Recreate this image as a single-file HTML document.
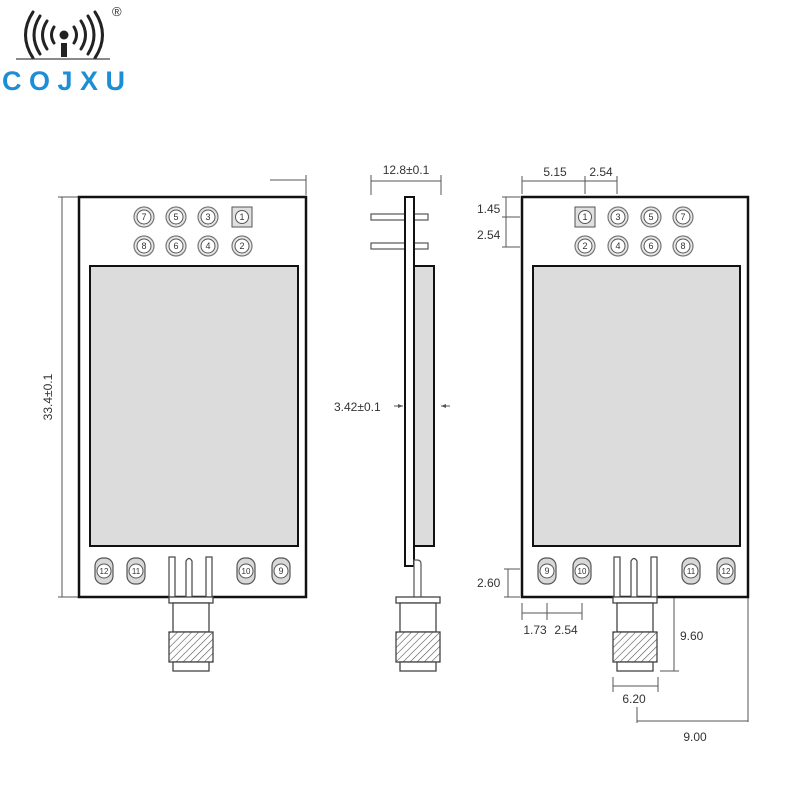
<!DOCTYPE html>
<html><head><meta charset="utf-8"><style>body{margin:0;background:#fff}svg{display:block}</style></head><body>
<svg width="800" height="800" viewBox="0 0 800 800" xmlns="http://www.w3.org/2000/svg" font-family="Liberation Sans, sans-serif">
<defs>
<pattern id="h" width="5" height="5" patternUnits="userSpaceOnUse" patternTransform="rotate(45)"><rect width="5" height="5" fill="#fff"/><line x1="0" y1="0" x2="0" y2="5" stroke="#555" stroke-width="1.2"/></pattern>
<g id="pin"><circle r="10" fill="#e6e6e6" stroke="#777" stroke-width="1.2"/><circle r="7" fill="#fff" stroke="#555" stroke-width="1"/></g>
<g id="pad"><rect x="-9" y="-13" width="18" height="26" rx="8" fill="#d8d8d8" stroke="#555" stroke-width="1.2"/><circle r="7" fill="#fff" stroke="#555" stroke-width="1"/></g>
<g id="conn" fill="none" stroke="#444" stroke-width="1.3">
<rect x="-22" y="0" width="44" height="6" fill="#fff"/>
<rect x="-18" y="6" width="36" height="29" fill="#fff"/>
<rect x="-22" y="35" width="44" height="30" fill="url(#h)"/>
<rect x="-18" y="65" width="36" height="9" fill="#fff"/>
</g>
</defs>
<!-- logo -->
<g fill="none" stroke="#222" stroke-width="3" stroke-linecap="round">
<path d="M54 27 Q49 35 54 43"/><path d="M47 21 Q38 35 47 49"/><path d="M40 16 Q28 35 40 54"/><path d="M33 12 Q18 35 33 58"/>
<path d="M74 27 Q79 35 74 43"/><path d="M81 21 Q90 35 81 49"/><path d="M88 16 Q100 35 88 54"/><path d="M95 12 Q110 35 95 58"/>
</g>
<circle cx="64" cy="35" r="4.5" fill="#222"/><rect x="61" y="43" width="6" height="14" fill="#222"/>
<line x1="16" y1="59" x2="110" y2="59" stroke="#444" stroke-width="1.2"/>
<text x="112" y="16" font-size="13" fill="#333">®</text>
<text x="2" y="90" font-size="27" font-weight="bold" fill="#1d8ed6" letter-spacing="7.5">COJXU</text>

<g stroke="#555" stroke-width="1" fill="none">
<line x1="62" y1="197" x2="62" y2="597"/><line x1="58" y1="197" x2="78" y2="197"/><line x1="58" y1="597" x2="78" y2="597"/>
<line x1="270" y1="180" x2="306" y2="180"/><line x1="306" y1="175" x2="306" y2="195"/>
<line x1="371" y1="181" x2="441" y2="181"/><line x1="371" y1="175" x2="371" y2="195"/><line x1="441" y1="175" x2="441" y2="195"/>
<line x1="394" y1="406" x2="403" y2="406"/><line x1="441" y1="406" x2="450" y2="406"/>
<line x1="522" y1="181" x2="617" y2="181"/><line x1="522" y1="176" x2="522" y2="194"/><line x1="585" y1="176" x2="585" y2="194"/><line x1="617" y1="176" x2="617" y2="194"/>
<line x1="506" y1="197" x2="506" y2="247"/><line x1="502" y1="197" x2="520" y2="197"/><line x1="502" y1="217" x2="520" y2="217"/><line x1="502" y1="247" x2="520" y2="247"/>
<line x1="508" y1="569" x2="508" y2="597"/><line x1="504" y1="569" x2="520" y2="569"/><line x1="504" y1="597" x2="520" y2="597"/>
<line x1="522" y1="613" x2="582" y2="613"/><line x1="522" y1="603" x2="522" y2="620"/><line x1="547" y1="603" x2="547" y2="620"/><line x1="582" y1="603" x2="582" y2="620"/>
<line x1="674" y1="597" x2="674" y2="671"/><line x1="660" y1="671" x2="679" y2="671"/>
<line x1="613" y1="686" x2="658" y2="686"/><line x1="613" y1="677" x2="613" y2="692"/><line x1="658" y1="677" x2="658" y2="692"/>
<line x1="637" y1="721" x2="748" y2="721"/><line x1="748" y1="597" x2="748" y2="722"/><line x1="637" y1="707" x2="637" y2="723"/>
</g>
<path d="M403 406 l-5 -2 v4z M441 406 l5 -2 v4z" fill="#555"/>
<g font-size="12" fill="#333">
<text x="52" y="397" transform="rotate(-90 52 397)" text-anchor="middle">33.4±0.1</text>
<text x="406" y="174" text-anchor="middle">12.8±0.1</text>
<text x="334" y="411">3.42±0.1</text>
<text x="555" y="176" text-anchor="middle">5.15</text><text x="601" y="176" text-anchor="middle">2.54</text>
<text x="477" y="213">1.45</text><text x="477" y="239">2.54</text>
<text x="477" y="587">2.60</text>
<text x="535" y="634" text-anchor="middle">1.73</text><text x="566" y="634" text-anchor="middle">2.54</text>
<text x="680" y="640">9.60</text><text x="634" y="703" text-anchor="middle">6.20</text><text x="695" y="741" text-anchor="middle">9.00</text>
</g>

<rect x="79" y="197" width="227" height="400" fill="#fff" stroke="#111" stroke-width="2.5"/>
<rect x="90" y="266" width="208" height="280" fill="#dcdcdc" stroke="#111" stroke-width="2"/>
<g font-size="9" fill="#333" text-anchor="middle">
<use href="#pin" x="144" y="217"/><text x="144" y="220">7</text>
<use href="#pin" x="176" y="217"/><text x="176" y="220">5</text>
<use href="#pin" x="208" y="217"/><text x="208" y="220">3</text>
<rect x="232" y="207" width="20" height="20" fill="#e0e0e0" stroke="#555"/><circle cx="242" cy="217" r="6.5" fill="#fff" stroke="#555"/><text x="242" y="220">1</text>
<use href="#pin" x="144" y="246"/><text x="144" y="249">8</text>
<use href="#pin" x="176" y="246"/><text x="176" y="249">6</text>
<use href="#pin" x="208" y="246"/><text x="208" y="249">4</text>
<use href="#pin" x="242" y="246"/><text x="242" y="249">2</text>
<use href="#pad" x="104" y="571"/><text x="104" y="574" font-size="8">12</text>
<use href="#pad" x="136" y="571"/><text x="136" y="574" font-size="8">11</text>
<use href="#pad" x="246" y="571"/><text x="246" y="574" font-size="8">10</text>
<use href="#pad" x="281" y="571"/><text x="281" y="574">9</text>
</g>
<g fill="#fff" stroke="#444" stroke-width="1.2">
<rect x="169" y="557" width="6" height="40"/><path d="M186 597 V561 q3 -5 6 0 V597"/><rect x="206" y="557" width="6" height="40"/>
</g>
<use href="#conn" x="191" y="597"/>

<g fill="#fff" stroke="#555" stroke-width="1.2">
<rect x="371" y="214" width="57" height="6"/><rect x="371" y="243" width="57" height="6"/>
</g>
<rect x="405" y="197" width="9" height="369" fill="#fff" stroke="#111" stroke-width="2"/>
<rect x="414" y="266" width="20" height="280" fill="#dcdcdc" stroke="#111" stroke-width="2"/>
<path d="M414 597 V560 h3 q4 0 4 4 V597" fill="#fff" stroke="#555" stroke-width="1.2"/>
<use href="#conn" x="418" y="597"/>

<rect x="522" y="197" width="226" height="400" fill="#fff" stroke="#111" stroke-width="2.5"/>
<rect x="533" y="266" width="207" height="280" fill="#dcdcdc" stroke="#111" stroke-width="2"/>
<g font-size="9" fill="#333" text-anchor="middle">
<rect x="575" y="207" width="20" height="20" fill="#e0e0e0" stroke="#555"/><circle cx="585" cy="217" r="6.5" fill="#fff" stroke="#555"/><text x="585" y="220">1</text>
<use href="#pin" x="618" y="217"/><text x="618" y="220">3</text>
<use href="#pin" x="651" y="217"/><text x="651" y="220">5</text>
<use href="#pin" x="683" y="217"/><text x="683" y="220">7</text>
<use href="#pin" x="585" y="246"/><text x="585" y="249">2</text>
<use href="#pin" x="618" y="246"/><text x="618" y="249">4</text>
<use href="#pin" x="651" y="246"/><text x="651" y="249">6</text>
<use href="#pin" x="683" y="246"/><text x="683" y="249">8</text>
<use href="#pad" x="547" y="571"/><text x="547" y="574">9</text>
<use href="#pad" x="582" y="571"/><text x="582" y="574" font-size="8">10</text>
<use href="#pad" x="691" y="571"/><text x="691" y="574" font-size="8">11</text>
<use href="#pad" x="726" y="571"/><text x="726" y="574" font-size="8">12</text>
</g>
<g fill="#fff" stroke="#444" stroke-width="1.2">
<rect x="614" y="557" width="6" height="40"/><path d="M631 597 V561 q3 -5 6 0 V597"/><rect x="651" y="557" width="6" height="40"/>
</g>
<use href="#conn" x="635" y="597"/>
</svg>
</body></html>
